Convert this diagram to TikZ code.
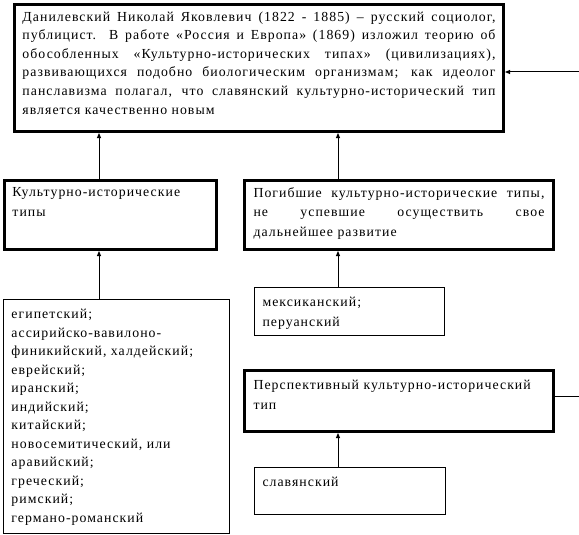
\documentclass[tikz,border=0pt]{standalone}
\usepackage{fontspec}
\setmainfont{Liberation Serif}[LetterSpace=7.5]
\usetikzlibrary{arrows.meta,positioning}
\tikzset{
  box/.style={draw, line width=3pt, anchor=north west, inner xsep=8pt,
              inner ysep=7pt, font=\fontsize{13.8}{19.5}\selectfont},
  widebox/.style={box, inner xsep=9pt},
  thinbox/.style={box, line width=1pt},
  arrow/.style={-{Triangle[length=5pt,width=4pt]}, line width=1pt}
}
\newcommand{\boxtext}[3]{\parbox[t][#2][t]{#1}{#3}}
\newcommand{\jline}[1]{\makebox[\linewidth][s]{#1}\par}

\begin{document}
\begin{tikzpicture}[x=1pt, y=-1pt]
  \useasboundingbox (0,0) rectangle (579,535);
  \coordinate (colL) at (99,0);
  \coordinate (colR) at (338,0);
  % upper block
  \node[box, font=\fontsize{13.8}{18.6}\selectfont] (main) at (13,3) {\boxtext{473pt}{113pt}{%
    \jline{Данилевский Николай Яковлевич (1822 - 1885) – русский социолог,}
    \jline{публицист. В работе «Россия и Европа» (1869) изложил теорию об}
    \jline{обособленных «Культурно-исторических типах» (цивилизациях),}
    \jline{развивающихся подобно биологическим организмам; как идеолог}
    \jline{панславизма полагал, что славянский культурно-исторический тип}
    является качественно новым}};
  % middle row
  \node[box] (kt) at (3,179) {\boxtext{196pt}{55pt}{\raggedright
    Культурно-исторические\\ типы}};
  \node[widebox] (pt) at (243,179) {\boxtext{291pt}{55pt}{%
    \jline{Погибшие культурно-исторические типы,}
    \jline{не успевшие осуществить свое}
    дальнейшее развитие}};
  % lower row
  \node[thinbox, inner ysep=10pt, font=\fontsize{13.8}{18.5}\selectfont] (list) at (3,299)
    {\boxtext{210pt}{214pt}{\raggedright
    египетский;\\ ассирийско-вавилоно-\\ финикийский, халдейский;\\
    еврейский;\\ иранский;\\ индийский;\\ китайский;\\
    новосемитический, или\\ аравийский;\\ греческий;\\ римский;\\
    германо-романский}};
  \node[thinbox, inner ysep=10pt] (mex) at (254,287) {\boxtext{174pt}{28pt}{\raggedright
    мексиканский;\\ перуанский}};
  \node[widebox, inner ysep=10pt] (persp) at (243,369) {\boxtext{291pt}{41pt}{\raggedright
    Перспективный культурно-исторический\\ тип}};
  \node[thinbox, inner ysep=10pt] (slav) at (254,467) {\boxtext{175pt}{27pt}{\raggedright
    славянский}};
  % connectors
  \foreach \u/\v/\c in {kt/main/colL, pt/main/colR, list/kt/colL,
                        mex/pt/colR, slav/persp/colR}
    \draw[arrow] (\u.north -| \c) -- (\v.south -| \c);
  \draw[arrow] ([yshift=5pt]persp.east) -- ++(40,0) |- ([yshift=-4pt]main.east);
\end{tikzpicture}
\end{document}
